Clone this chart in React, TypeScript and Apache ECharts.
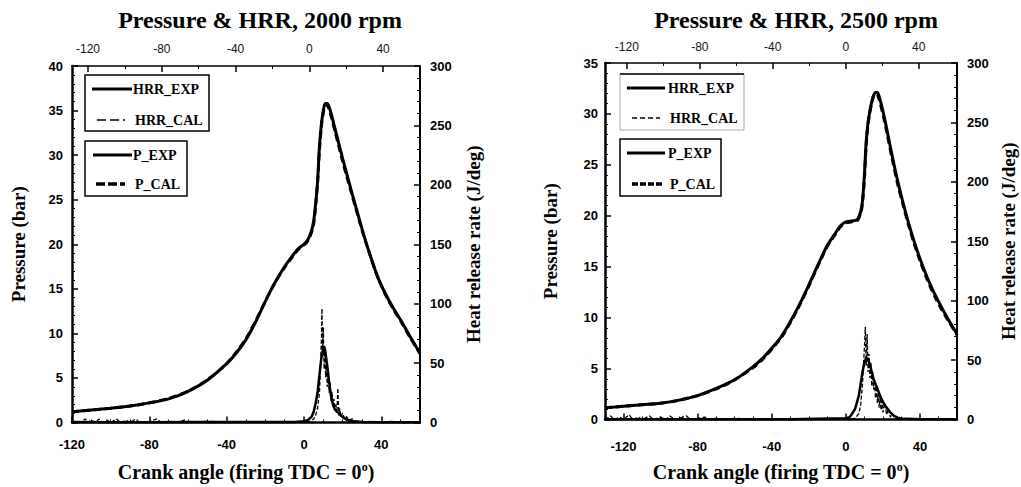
import React, { useEffect, useRef } from "react";
import * as echarts from "echarts";

const SERIF = "'Liberation Serif', 'Times New Roman', serif";
const SANS = "'Liberation Sans', Arial, sans-serif";

// ---------- tick labels ----------
const xTickLabels = [-120, -80, -40, 0, 40];
const xMinorTicks = [-130, -110, -100, -90, -70, -60, -50, -30, -20, -10, 10, 20, 30, 50, 60];
const xTopMinorTicks = [-100, -60, -20, 20];

// ---------- 2000 rpm : pressure ----------
const angleP2000 = [-120, -110, -100, -90, -80, -70, -60, -50, -40, -35, -30, -25, -20, -15, -10, -6, -3, 0, 2, 4, 5, 6, 7, 8, 9, 10, 11, 12, 13, 14, 16, 18, 20, 22, 25, 28, 31, 34, 38, 42, 46, 50, 55, 60];
const pExp2000 = [1.2, 1.4, 1.6, 1.85, 2.2, 2.65, 3.5, 4.75, 6.6, 7.8, 9.3, 11.3, 13.6, 15.7, 17.5, 18.7, 19.5, 20.0, 20.5, 21.6, 22.6, 24.5, 27.0, 31.0, 33.5, 35.0, 35.8, 35.8, 35.4, 34.7, 33.0, 31.3, 29.6, 28.0, 25.6, 23.3, 21.0, 18.9, 16.4, 14.5, 12.9, 11.5, 9.6, 7.8];
const pCal2000 = [1.2, 1.4, 1.6, 1.85, 2.2, 2.7, 3.5, 4.8, 6.6, 7.9, 9.4, 11.4, 13.6, 15.7, 17.4, 18.6, 19.4, 19.9, 20.4, 21.4, 22.3, 24.2, 26.8, 30.6, 33.2, 34.8, 35.6, 35.6, 35.1, 34.4, 32.7, 31.0, 29.3, 27.7, 25.4, 23.1, 20.9, 18.9, 16.4, 14.4, 12.8, 11.4, 9.5, 7.7];

// ---------- 2000 rpm : heat release rate ----------
const angleHe2000 = [-120, -100, -80, -60, -40, -20, -5, 0, 2, 4, 5, 6, 7, 8, 9, 10, 10.5, 11, 12, 13, 14, 15, 16, 17, 18, 19, 20, 22, 24, 26, 30, 40, 50, 60];
const hrrExp2000 = [0.5, 0.3, 0.3, 0.4, 0.5, 0.5, 0.5, 1, 2, 5, 9, 16, 25, 40, 55, 63, 64, 60, 48, 34, 22, 15, 11, 9, 8, 6, 4.5, 2.5, 1.5, 1, 0.5, 0.3, 0.3, 0.3];
const angleHc2000 = [-120, -116, -113, -112, -110, -108, -106, -104, -102, -100, -97, -95, -92, -90, -87, -85, -80, -76, -74, -70, -66, -62, -60, -50, -40, -30, -20, -10, 0, 3, 5, 6, 7, 8, 8.5, 9, 9.3, 9.6, 10, 10.4, 10.8, 11.2, 11.6, 12, 12.5, 13, 13.5, 14, 14.5, 15, 15.5, 16, 16.5, 17, 17.5, 18, 18.5, 19, 20, 21, 22, 23, 25, 27, 30, 35, 40, 45, 50, 55, 60];
const hrrCal2000 = [0, 0, 3, 0, 2, 0, 3, 0, 2, 0, 3, 0, 2, 0, 3, 0, 1, 3, 0, 1, 0, 2, 0, 1, 0, 0.5, 0, 0.5, 0.5, 1, 3, 6, 12, 25, 45, 70, 96, 55, 80, 45, 62, 38, 50, 30, 42, 25, 34, 18, 26, 14, 20, 10, 15, 8, 29, 6, 12, 5, 8, 3, 5, 2, 3, 1, 0.5, 1, 0, 1, 0, 0.5, 0];

// ---------- 2500 rpm : pressure ----------
const angleP2500 = [-130, -120, -110, -100, -90, -80, -70, -60, -50, -45, -40, -35, -30, -25, -20, -15, -10, -6, -3, 0, 3, 6, 8, 9, 10, 11, 12, 13, 14, 15, 16, 17, 18, 20, 22, 25, 28, 31, 34, 37, 40, 44, 48, 52, 56, 60];
const pExp2500 = [1.15, 1.3, 1.45, 1.6, 1.9, 2.35, 3.05, 3.9, 5.2, 6.0, 7.0, 8.1, 9.6, 11.3, 13.2, 15.2, 17.1, 18.2, 19.0, 19.4, 19.5, 19.6, 20.4, 21.5, 24.0, 27.3, 29.2, 30.3, 31.2, 31.8, 32.1, 32.1, 31.7, 30.3, 28.6, 25.9, 23.4, 21.2, 19.2, 17.4, 15.8, 13.9, 12.3, 10.9, 9.6, 8.4];
const pCal2500 = [1.15, 1.3, 1.45, 1.6, 1.9, 2.35, 3.0, 3.9, 5.1, 5.9, 6.9, 8.0, 9.5, 11.2, 13.1, 15.1, 17.0, 18.1, 18.9, 19.3, 19.4, 19.5, 20.2, 21.3, 23.6, 27.0, 29.0, 30.2, 31.1, 31.8, 32.0, 31.9, 31.4, 30.0, 28.3, 25.6, 23.1, 21.0, 19.0, 17.2, 15.6, 13.7, 12.1, 10.7, 9.5, 8.3];

// ---------- 2500 rpm : heat release rate ----------
const angleHe2500 = [-130, -110, -90, -70, -50, -30, -8, 0, 2, 3, 5, 7, 8, 9, 10, 11, 12, 13, 14, 15, 16, 17, 18, 19, 20, 21, 22, 24, 26, 28, 30, 40, 50, 60];
const hrrExp2500 = [0.3, 0.3, 0.3, 0.3, 0.3, 0.3, 0.8, 1, 2, 4, 9, 20, 30, 40, 48, 52, 51, 46, 40, 34, 30, 26, 22, 18, 15, 12, 10, 6, 3, 1.5, 0.8, 0.3, 0.3, 0.3];
const angleHc2500 = [-130, -127, -125, -122, -120, -117, -115, -112, -110, -106, -104, -100, -97, -95, -92, -90, -86, -84, -80, -76, -74, -70, -65, -60, -50, -40, -30, -20, -10, 0, 5, 7, 8, 9, 10, 10.5, 11, 11.5, 12, 12.5, 13, 13.5, 14, 14.5, 15, 15.5, 16, 16.5, 17, 17.5, 18, 18.5, 19, 19.5, 20, 21, 22, 23, 24, 25, 27, 30, 40, 50, 60];
const hrrCal2500 = [0, 3, 0, 2, 0, 4, 0, 2, 0, 3, 0, 2, 0, 3, 0, 1, 3, 0, 1, 2, 0, 1, 0, 1, 0, 0.5, 0, 0.5, 0.5, 0.5, 1, 5, 12, 30, 60, 78, 45, 72, 40, 55, 35, 48, 28, 40, 25, 33, 18, 28, 14, 22, 10, 20, 8, 18, 6, 14, 4, 9, 2, 5, 1, 0.5, 0, 0.5, 0];

const pairs = (xs: number[], ys: number[]) => xs.map((x, i) => [x, ys[i]]);

const black = "#000";

function bottomAxis(gridIndex: number, min: number, max: number, margin: number, gap: number) {
  return {
    type: "value",
    gridIndex,
    position: "bottom",
    min,
    max,
    axisLine: { show: true, onZero: false, lineStyle: { color: black, width: 2.5 } },
    splitLine: { show: false },
    axisLabel: { color: black, fontFamily: SANS, fontWeight: "bold", fontSize: 13, margin, customValues: xTickLabels },
    axisTick: { show: true, inside: true, length: 6, customValues: xTickLabels, lineStyle: { color: black, width: 1.5 } },
    name: "Crank angle (firing TDC = 0{sup|o})",
    nameLocation: "middle",
    nameGap: gap,
    nameTextStyle: {
      color: black,
      fontFamily: SERIF,
      fontWeight: "bold",
      fontSize: 20,
      rich: { sup: { fontFamily: SERIF, fontWeight: "bold", fontSize: 12, verticalAlign: "top", lineHeight: 23, color: black } },
    },
  };
}

function minorAxis(gridIndex: number, position: string, min: number, max: number, values: number[]) {
  return {
    type: "value",
    gridIndex,
    position,
    min,
    max,
    axisLine: { show: false, onZero: false },
    splitLine: { show: false },
    axisLabel: { show: false },
    axisTick: { show: true, inside: true, length: 3, customValues: values, lineStyle: { color: black, width: 1 } },
  };
}

function topAxis(gridIndex: number, min: number, max: number, margin: number) {
  return {
    type: "value",
    gridIndex,
    position: "top",
    min,
    max,
    axisLine: { show: true, onZero: false, lineStyle: { color: black, width: 1.5 } },
    splitLine: { show: false },
    axisLabel: { color: "#111", fontFamily: SANS, fontSize: 12, margin, customValues: xTickLabels },
    axisTick: { show: true, inside: true, length: 6, customValues: xTickLabels, lineStyle: { color: black, width: 1.5 } },
  };
}

function leftAxis(gridIndex: number, max: number, margin: number, gap: number) {
  return {
    type: "value",
    gridIndex,
    position: "left",
    min: 0,
    max,
    interval: 5,
    axisLine: { show: true, onZero: false, lineStyle: { color: black, width: 2.5 } },
    splitLine: { show: false },
    axisTick: { show: true, inside: true, length: 6, lineStyle: { color: black, width: 1.5 } },
    minorTick: { show: true, splitNumber: 5, length: 3, lineStyle: { color: black, width: 1 } },
    axisLabel: { color: black, fontFamily: SANS, fontWeight: "bold", fontSize: 13, margin },
    name: "Pressure (bar)",
    nameLocation: "middle",
    nameGap: gap,
    nameTextStyle: { color: black, fontFamily: SERIF, fontWeight: "bold", fontSize: 19 },
  };
}

function rightAxis(gridIndex: number, margin: number, gap: number) {
  return {
    type: "value",
    gridIndex,
    position: "right",
    min: 0,
    max: 300,
    interval: 50,
    axisLine: { show: true, onZero: false, lineStyle: { color: black, width: 2 } },
    splitLine: { show: false },
    axisTick: { show: true, inside: true, length: 6, lineStyle: { color: black, width: 1.5 } },
    minorTick: { show: true, splitNumber: 5, length: 3, lineStyle: { color: black, width: 1 } },
    axisLabel: { color: black, fontFamily: SANS, fontWeight: "bold", fontSize: 13, margin },
    name: "Heat release rate (J/deg)",
    nameLocation: "middle",
    nameGap: gap,
    nameTextStyle: { color: black, fontFamily: SERIF, fontWeight: "bold", fontSize: 19 },
  };
}

function lineSeries(name: string, data: number[][], xAxisIndex: number, yAxisIndex: number, width: number, type: any, smooth: number) {
  return {
    type: "line",
    name,
    data,
    xAxisIndex,
    yAxisIndex,
    showSymbol: false,
    symbol: "none",
    smooth,
    lineStyle: { color: black, width, type },
    z: 3,
  };
}

const legendFont = `bold 14px ${SERIF}`;

function legendText(x: number, y: number, text: string) {
  return { type: "text", x, y, style: { text, font: legendFont, fill: black, verticalAlign: "middle", align: "left" } };
}
function legendLine(x1: number, x2: number, y: number, width: number, dash?: number[]) {
  return { type: "line", shape: { x1, y1: y, x2, y2: y }, style: { stroke: black, lineWidth: width, lineDash: dash || null } };
}

export default function App() {
  const ref = useRef<HTMLDivElement>(null);
  useEffect(() => {
    if (!ref.current) return;
    const chart = echarts.init(ref.current, null, { renderer: "svg" });
    const option: any = {
      animation: false,
      backgroundColor: "#fff",
      title: [
        { text: "Pressure & HRR, 2000 rpm", left: 255, top: 3, textAlign: "center", textStyle: { fontFamily: SERIF, fontWeight: "bold", fontSize: 24, color: black } },
        { text: "Pressure & HRR, 2500 rpm", left: 791, top: 3, textAlign: "center", textStyle: { fontFamily: SERIF, fontWeight: "bold", fontSize: 24, color: black } },
      ],
      grid: [
        { left: 72, top: 66, width: 348, height: 361 },
        { left: 605, top: 63, width: 352, height: 366 },
      ],
      xAxis: [
        bottomAxis(0, -120, 60, 15, 38),
        minorAxis(0, "bottom", -120, 60, xMinorTicks),
        topAxis(0, -128.7, 60, 11),
        minorAxis(0, "top", -128.7, 60, xTopMinorTicks),
        bottomAxis(1, -130, 60, 20, 41),
        minorAxis(1, "bottom", -130, 60, xMinorTicks),
        topAxis(1, -132, 61, 10),
        minorAxis(1, "top", -132, 61, xTopMinorTicks),
      ],
      yAxis: [leftAxis(0, 40, 9, 44), rightAxis(0, 10, 44), leftAxis(1, 35, 7, 45), rightAxis(1, 10, 42)],
      series: [
        lineSeries("P_EXP", pairs(angleP2000, pExp2000), 0, 0, 3, "solid", 0.3),
        lineSeries("P_CAL", pairs(angleP2000, pCal2000), 0, 0, 3, [7, 4], 0.3),
        lineSeries("HRR_EXP", pairs(angleHe2000, hrrExp2000), 0, 1, 2.5, "solid", 0),
        lineSeries("HRR_CAL", pairs(angleHc2000, hrrCal2000), 0, 1, 1.3, [4, 2], 0),
        lineSeries("P_EXP", pairs(angleP2500, pExp2500), 4, 2, 3, "solid", 0.3),
        lineSeries("P_CAL", pairs(angleP2500, pCal2500), 4, 2, 3, [7, 4], 0.3),
        lineSeries("HRR_EXP", pairs(angleHe2500, hrrExp2500), 4, 3, 2.5, "solid", 0),
        lineSeries("HRR_CAL", pairs(angleHc2500, hrrCal2500), 4, 3, 1.3, [4, 2], 0),
      ],
      graphic: [
        // left chart legends
        { type: "rect", shape: { x: 85, y: 75, width: 124, height: 56 }, style: { fill: "#fff", stroke: black, lineWidth: 1.5 }, z: 10 },
        { ...legendLine(92, 132, 89, 3), z: 11 },
        { ...legendText(133, 89, "HRR_EXP"), z: 11 },
        { ...legendLine(97, 125, 120, 1.5, [9, 4]), z: 11 },
        { ...legendText(135, 120, "HRR_CAL"), z: 11 },
        { type: "rect", shape: { x: 85, y: 141, width: 102, height: 55 }, style: { fill: "#fff", stroke: black, lineWidth: 1.5 }, z: 10 },
        { ...legendLine(93, 132, 155, 3), z: 11 },
        { ...legendText(133, 155, "P_EXP"), z: 11 },
        { ...legendLine(96, 125, 184, 3.5, [9, 3]), z: 11 },
        { ...legendText(135, 184, "P_CAL"), z: 11 },
        // right chart legends
        { type: "rect", shape: { x: 620, y: 74, width: 124, height: 56 }, style: { fill: "#fff", stroke: "#aaa", lineWidth: 1 }, z: 10 },
        { ...legendLine(620, 744, 74, 1.5), z: 11 },
        { ...legendLine(627, 665, 88, 3), z: 11 },
        { ...legendText(668, 88, "HRR_EXP"), z: 11 },
        { ...legendLine(632, 660, 118, 1.5, [5, 3]), z: 11 },
        { ...legendText(670, 118, "HRR_CAL"), z: 11 },
        { type: "rect", shape: { x: 620, y: 139, width: 101, height: 57 }, style: { fill: "#fff", stroke: black, lineWidth: 1.5 }, z: 10 },
        { ...legendLine(627, 665, 153, 3), z: 11 },
        { ...legendText(668, 153, "P_EXP"), z: 11 },
        { ...legendLine(632, 662, 184, 3.5, [6, 2]), z: 11 },
        { ...legendText(670, 184, "P_CAL"), z: 11 },
      ],
    };
    chart.setOption(option);
    return () => chart.dispose();
  }, []);
  return <div ref={ref} style={{ position: "fixed", left: 0, top: 0, width: 1021, height: 487, background: "#fff" }} />;
}
